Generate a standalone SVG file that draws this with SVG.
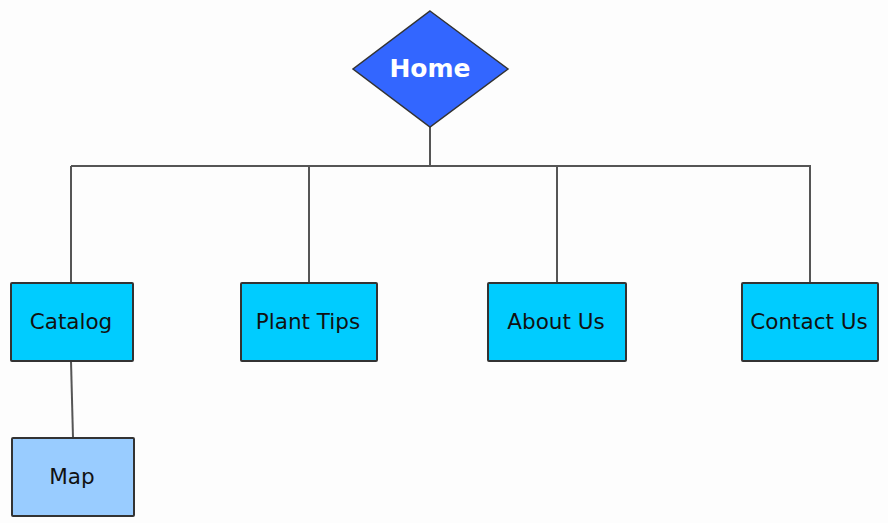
<svg xmlns="http://www.w3.org/2000/svg" width="888" height="523" viewBox="0 0 888 523">
<style>
.box{fill:#00CCFF;stroke:#333;stroke-width:2}
.map{fill:#99CCFF;stroke:#333;stroke-width:2}
.lbl{font-family:"DejaVu Sans",Verdana,sans-serif;font-size:21.5px;fill:#111;text-anchor:middle}
.home{font-family:"DejaVu Sans",Verdana,sans-serif;font-size:25px;font-weight:bold;fill:#fff;text-anchor:middle}
.conn{fill:none;stroke:#555;stroke-width:2}
</style>
<rect width="888" height="523" fill="#fdfdfd"/>
<g id="connectors">
<line class="conn" x1="430" y1="127" x2="430" y2="166"/>
<line class="conn" x1="71" y1="166" x2="811" y2="166"/>
<line class="conn" x1="71" y1="166" x2="71" y2="283"/>
<line class="conn" x1="309" y1="166" x2="309" y2="283"/>
<line class="conn" x1="557" y1="166" x2="557" y2="283"/>
<line class="conn" x1="810" y1="166" x2="810" y2="283"/>
<line class="conn" x1="71" y1="361" x2="73" y2="438"/>
</g>
<g id="home">
<polygon points="430,11 508,69 430,127 353,69" fill="#3366FF" stroke="#333" stroke-width="1.5"/>
<text class="home" x="430" y="77">Home</text>
</g>
<g id="catalog">
<rect class="box" x="11" y="283" width="122" height="78" rx="1"/>
<text class="lbl" x="71" y="329">Catalog</text>
</g>
<g id="planttips">
<rect class="box" x="241" y="283" width="136" height="78" rx="1"/>
<text class="lbl" x="308" y="329">Plant Tips</text>
</g>
<g id="aboutus">
<rect class="box" x="488" y="283" width="138" height="78" rx="1"/>
<text class="lbl" x="556" y="329">About Us</text>
</g>
<g id="contactus">
<rect class="box" x="742" y="283" width="136" height="78" rx="1"/>
<text class="lbl" x="809" y="329">Contact Us</text>
</g>
<g id="map">
<rect class="map" x="12" y="438" width="122" height="78" rx="1"/>
<text class="lbl" x="72" y="484">Map</text>
</g>
</svg>
